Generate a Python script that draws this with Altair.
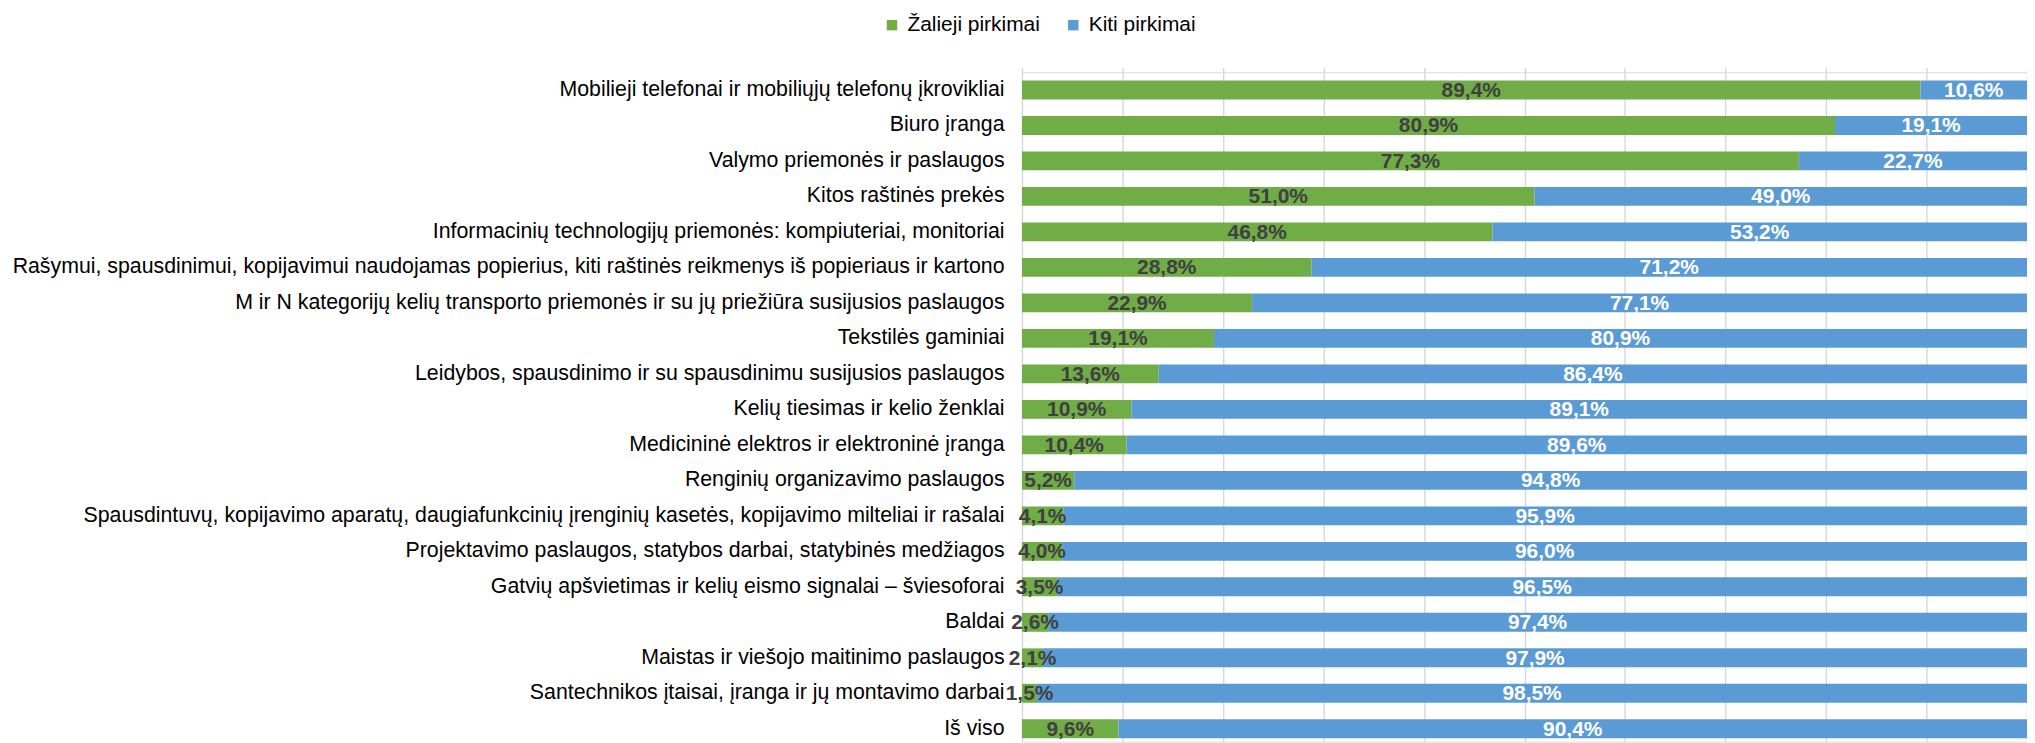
import altair as alt
import pandas as pd

categories = [
    "Mobilieji telefonai ir mobiliųjų telefonų įkrovikliai",
    "Biuro įranga",
    "Valymo priemonės ir paslaugos",
    "Kitos raštinės prekės",
    "Informacinių technologijų priemonės: kompiuteriai, monitoriai",
    "Rašymui, spausdinimui, kopijavimui naudojamas popierius, kiti raštinės reikmenys iš popieriaus ir kartono",
    "M ir N kategorijų kelių transporto priemonės ir su jų priežiūra susijusios paslaugos",
    "Tekstilės gaminiai",
    "Leidybos, spausdinimo ir su spausdinimu susijusios paslaugos",
    "Kelių tiesimas ir kelio ženklai",
    "Medicininė elektros ir elektroninė įranga",
    "Renginių organizavimo paslaugos",
    "Spausdintuvų, kopijavimo aparatų, daugiafunkcinių įrenginių kasetės, kopijavimo milteliai ir rašalai",
    "Projektavimo paslaugos, statybos darbai, statybinės medžiagos",
    "Gatvių apšvietimas ir kelių eismo signalai – šviesoforai",
    "Baldai",
    "Maistas ir viešojo maitinimo paslaugos",
    "Santechnikos įtaisai, įranga ir jų montavimo darbai",
    "Iš viso",
]
green = [89.4, 80.9, 77.3, 51.0, 46.8, 28.8, 22.9, 19.1, 13.6, 10.9, 10.4, 5.2, 4.1, 4.0, 3.5, 2.6, 2.1, 1.5, 9.6]
other = [10.6, 19.1, 22.7, 49.0, 53.2, 71.2, 77.1, 80.9, 86.4, 89.1, 89.6, 94.8, 95.9, 96.0, 96.5, 97.4, 97.9, 98.5, 90.4]
series_names = ["Žalieji pirkimai", "Kiti pirkimai"]
colors = ["#70AD47", "#5B9BD5"]
grid_values = [0, 10, 20, 30, 40, 50, 60, 70, 80, 90, 100]

rows = []
for i, c in enumerate(categories):
    rows.append({"category": c, "series": series_names[0], "value": green[i], "order": 0})
    rows.append({"category": c, "series": series_names[1], "value": other[i], "order": 1})
df = pd.DataFrame(rows)
df["label"] = df["value"].map(lambda v: f"{v:.1f}".replace(".", ",") + "%")

FONT = "Liberation Sans"

base = alt.Chart(df).transform_stack(
    stack="value",
    groupby=["category"],
    as_=["v0", "v1"],
    sort=[alt.SortField("order", order="ascending")],
).transform_calculate(mid="(datum.v0 + datum.v1) / 2")

y_enc = alt.Y(
    "category:N",
    sort=categories,
    title=None,
    scale=alt.Scale(range=[0, 677], paddingInner=0.467, paddingOuter=0.233),
    axis=alt.Axis(
        labelFontSize=21.4,
        labelFont=FONT,
        labelColor="#000000",
        labelPadding=18,
        labelLimit=1200,
        ticks=False,
        domain=False,
        grid=False,
    ),
)

bars = base.mark_bar().encode(
    y=y_enc,
    x=alt.X(
        "v0:Q",
        scale=alt.Scale(domain=[0, 100], nice=False, zero=True),
        title=None,
        axis=alt.Axis(
            values=grid_values,
            labels=False,
            ticks=False,
            domain=False,
            grid=True,
            gridColor="#D9D9D9",
            gridWidth=1.5,
        ),
    ),
    x2="v1:Q",
    color=alt.Color(
        "series:N",
        scale=alt.Scale(domain=series_names, range=colors),
        title=None,
        legend=alt.Legend(
            orient="none",
            legendX=-141,
            legendY=-58,
            direction="horizontal",
            symbolType="square",
            symbolSize=110,
            symbolStrokeWidth=0,
            labelFontSize=21,
            labelFont=FONT,
            labelColor="#000000",
            labelOffset=5,
            columnPadding=22,
        ),
    ),
)

texts = base.mark_text(
    fontSize=21, fontWeight="bold", font=FONT, baseline="middle", dy=1
).encode(
    y=alt.Y("category:N", sort=categories),
    x=alt.X("mid:Q"),
    text="label:N",
    color=alt.condition(alt.datum.order == 0, alt.value("#404040"), alt.value("#FFFFFF")),
)

chart = alt.layer(bars, texts).properties(
    width=1009,
    height=672,
    padding={"left": 1018, "top": 63, "right": 0, "bottom": 0},
    autosize=alt.AutoSizeParams(type="none"),
).configure_view(stroke=None).configure(font=FONT)

chart.save("out.html", embed_options={"renderer": "svg", "actions": False})
